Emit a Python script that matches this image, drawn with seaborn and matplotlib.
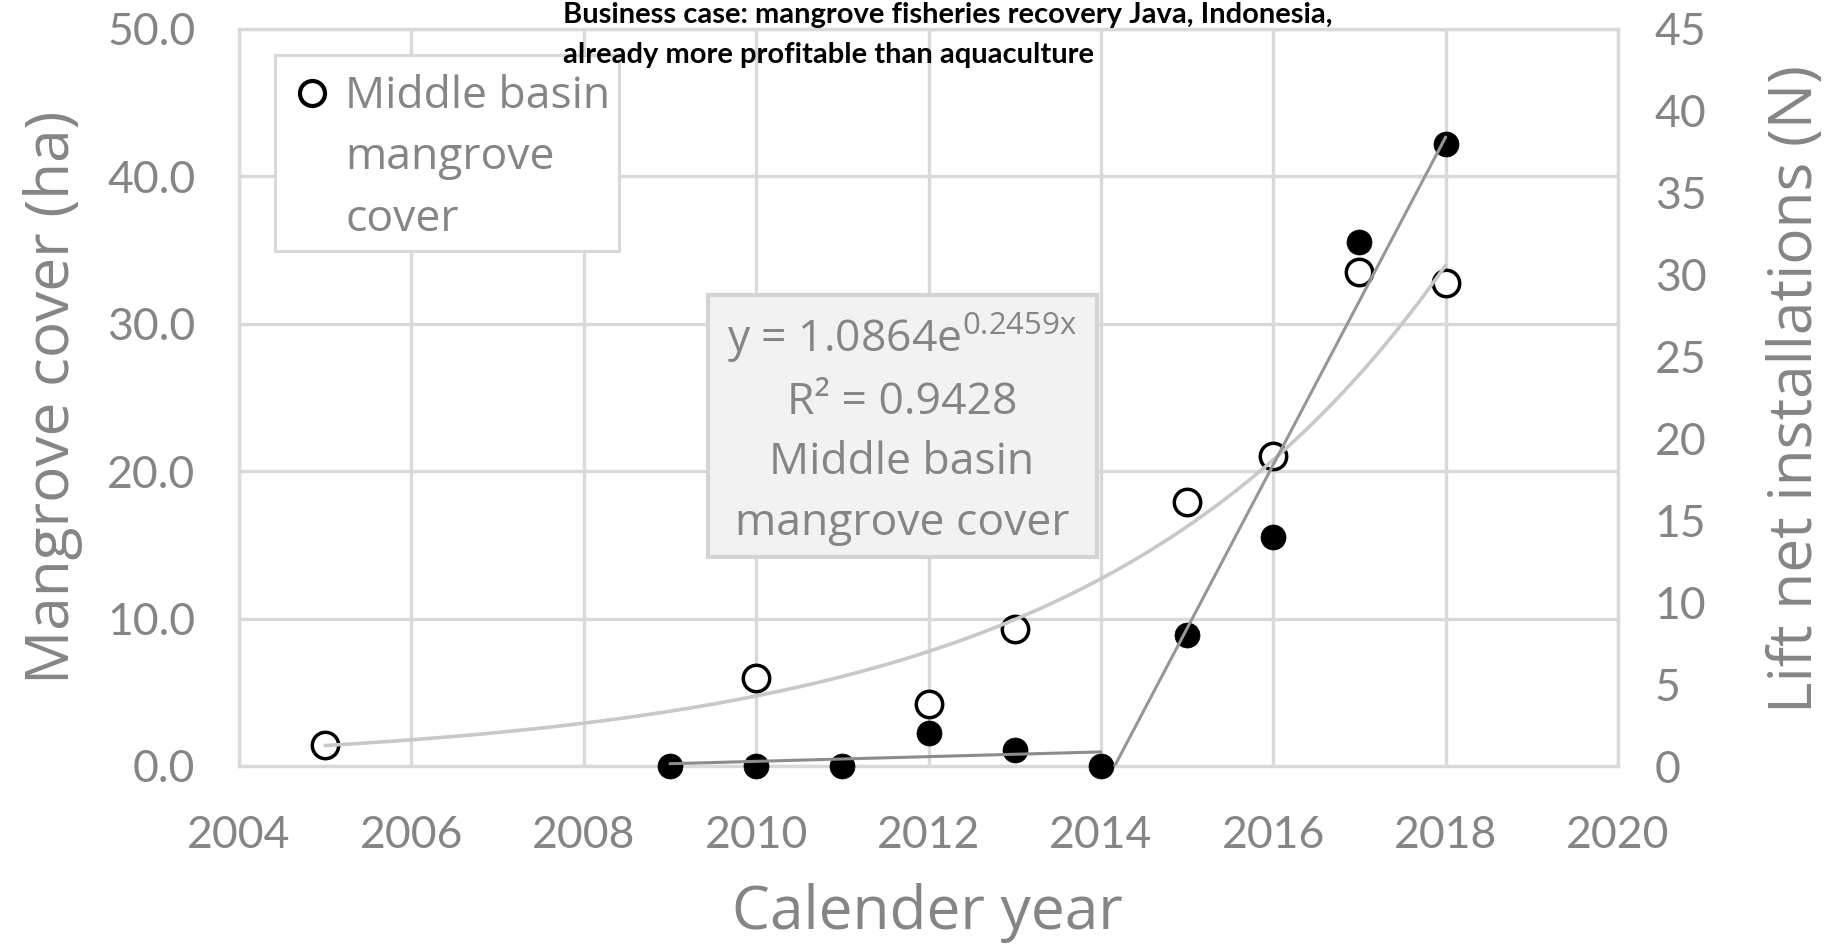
import numpy as np
import pandas as pd
import matplotlib
matplotlib.use('Agg')
import matplotlib.pyplot as plt
import seaborn as sns
from matplotlib.patches import Rectangle

# Values
mangrove_years = [2005, 2010, 2012, 2013, 2015, 2016, 2017, 2018]
mangrove_ha = [1.4, 6.0, 4.2, 9.3, 17.9, 21.0, 33.5, 32.8]
liftnet_years = [2009, 2010, 2011, 2012, 2013, 2014, 2015, 2016, 2017, 2018]
liftnet_n = [0, 0, 0, 2, 1, 0, 8, 14, 32, 38]
# Linear trend segments of the lift nets (end points)
trend_early_x = [2009, 2014]
trend_early_y = [0.14, 0.86]
trend_late_x = [2014.16, 2018]
trend_late_y = [0.0, 38.4]
# Exponential trendline, coefficients as printed on the chart (x = year - 2004)
exp_a = 1.0864
exp_b = 0.2459
exp_first, exp_last = 2005, 2018

x_ticks = list(range(2004, 2021, 2))
left_ticks = [0, 10, 20, 30, 40, 50]
right_ticks = list(range(0, 46, 5))

title_lines = ['Business case: mangrove fisheries recovery Java, Indonesia,',
               'already more profitable than aquaculture']
legend_lines = ['Middle basin', 'mangrove', 'cover']
note_lines = ['y = 1.0864e$^{0.2459x}$', 'R² = 0.9428', 'Middle basin', 'mangrove cover']

# Styling
sns.set_style('white')
plt.rcParams['font.family'] = ['Open Sans', 'DejaVu Sans']
plt.rcParams['mathtext.fontset'] = 'custom'
plt.rcParams['mathtext.rm'] = 'Open Sans'
plt.rcParams['mathtext.it'] = 'Open Sans'
GRID = '#d9d9d9'
TXT = '#858585'

fig = plt.figure(figsize=(18.28, 9.46), dpi=100)
ax = fig.add_axes([239 / 1828, 1 - 766 / 946, 1379 / 1828, 737 / 946])
ax2 = ax.twinx()

# Mangrove cover (left axis): open circles + exponential trendline
sns.scatterplot(x=mangrove_years, y=mangrove_ha, ax=ax, s=19 ** 2, facecolor='white',
                edgecolor='black', linewidth=2.5, zorder=3, clip_on=False, legend=False)
exp_years = np.linspace(exp_first, exp_last, 200)
exp_vals = exp_a * np.exp(exp_b * (exp_years - 2004))
sns.lineplot(x=exp_years, y=exp_vals, ax=ax, color='#c8c8c8', lw=2.6, zorder=4)

# Lift nets (right axis): filled circles + two linear trends
sns.scatterplot(x=liftnet_years, y=liftnet_n, ax=ax2, s=18 ** 2, color='black',
                edgecolor='black', linewidth=0.5, zorder=3, clip_on=False, legend=False)
sns.lineplot(x=trend_early_x, y=trend_early_y, ax=ax2, color='#8c8c8c', lw=2.2, zorder=4)
sns.lineplot(x=trend_late_x, y=trend_late_y, ax=ax2, color='#969696', lw=2.2, zorder=4)

# Axes, ticks, grid
ax.set_xlim(2004, 2020)
ax.set_ylim(0, 50)
ax2.set_ylim(0, 45)
ax.set_xticks(x_ticks, labels=[str(t) for t in x_ticks], fontfamily='Lato')
ax.set_yticks(left_ticks, labels=[f'{v:.1f}' for v in left_ticks], fontfamily='Lato')
ax2.set_yticks(right_ticks, labels=[str(v) for v in right_ticks], fontfamily='Lato')
ax.grid(True, color=GRID, lw=2.4)
ax.set_axisbelow(True)
for s in ax.spines.values():
    s.set_color(GRID)
    s.set_linewidth(2.4)
for s in ax2.spines.values():
    s.set_visible(False)
ax.tick_params(axis='both', length=0, labelsize=32, labelcolor=TXT)
ax.tick_params(axis='x', pad=35)
ax.tick_params(axis='y', pad=31.5)
ax2.tick_params(axis='y', length=0, labelsize=32, labelcolor=TXT, pad=26.5)

# Axis titles
ax.set_xlabel('Calender year', fontsize=43.5, color=TXT, va='baseline')
ax.xaxis.set_label_coords(0.499, (766 - 929) / 737)
ax.set_ylabel('Mangrove cover (ha)', fontsize=43.5, color=TXT, va='center')
ax.yaxis.set_label_coords(-0.135, 0.5)
ax2.set_ylabel('Lift net installations (N)', fontsize=43.5, color=TXT, va='center', rotation=90)
ax2.yaxis.set_label_coords(1.129, 0.512)

# Legend box (drawn by hand so the marker sits on the first line)
ax2.add_patch(Rectangle((0.0261, 0.6988), 0.2495, 0.266, transform=ax2.transAxes,
                        fc='white', ec=GRID, lw=2.2, zorder=5))
ax2.plot([0.0529], [0.9132], transform=ax2.transAxes, marker='o', ms=18, mfc='white',
         mec='black', mew=3, zorder=6, ls='none')
for txt, yy in zip(legend_lines, [0.8928, 0.810, 0.7259]):
    ax2.text(0.0769, yy, txt, transform=ax2.transAxes, fontsize=32, color=TXT,
             va='baseline', ha='left', zorder=6)

# Trendline label box
ax2.add_patch(Rectangle((0.3401, 0.2836), 0.2821, 0.3555, transform=ax2.transAxes,
                        fc='#f2f2f2', ec='#d4d4d4', lw=3, zorder=5))
for txt, yy in zip(note_lines, [0.5617, 0.4776, 0.3962, 0.3134]):
    ax2.text(0.4808, yy, txt, transform=ax2.transAxes, fontsize=32, color=TXT,
             va='baseline', ha='center', zorder=6)

# Title
for txt, yy in zip(title_lines, [23, 63]):
    fig.text(563 / 1828, 1 - yy / 946, txt, fontfamily='Lato', fontweight='bold',
             fontsize=21, color='black', va='baseline', ha='left')

fig.savefig('out.png', dpi=100)
